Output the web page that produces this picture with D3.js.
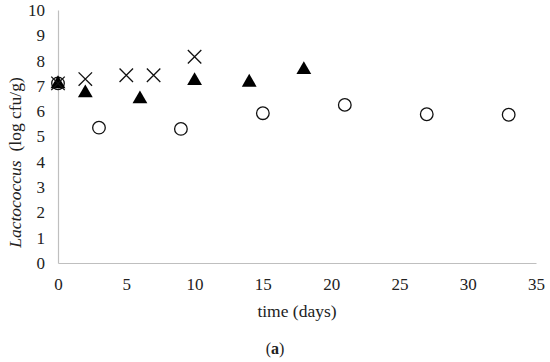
<!DOCTYPE html>
<html>
<head>
<meta charset="utf-8">
<script src="https://cdn.jsdelivr.net/npm/d3@7"></script>
<style>
  body { margin: 0; background: #fff; }
  svg { display: block; font-family: "Liberation Serif", "DejaVu Serif", serif; }
</style>
</head>
<body>
<svg id="chart" width="550" height="362"></svg>
<script>
const circleDays = [0, 3, 9, 15, 21, 27, 33];
const circleValues = [7.1, 5.35, 5.3, 5.92, 6.25, 5.88, 5.86];
const triangleDays = [0, 2, 6, 10, 14, 18];
const triangleValues = [7.08, 6.72, 6.48, 7.2, 7.14, 7.64];
const crossDays = [0, 2, 5, 7, 10];
const crossValues = [7.1, 7.27, 7.42, 7.42, 8.15];
const xTicks = [0, 5, 10, 15, 20, 25, 30, 35];
const yTicks = [0, 1, 2, 3, 4, 5, 6, 7, 8, 9, 10];

const svg = d3.select("#chart");
const x = d3.scaleLinear().domain([0, 35]).range([58, 536]);
const y = d3.scaleLinear().domain([0, 10]).range([263, 10]);

// axes, gray lines without ticks
const xAxis = svg.append("g")
  .attr("transform", `translate(0,${y(0)})`)
  .call(d3.axisBottom(x).tickValues(xTicks).tickSize(0).tickPadding(15));
const yAxis = svg.append("g")
  .attr("transform", `translate(${x(0)},0)`)
  .call(d3.axisLeft(y).tickValues(yTicks).tickSize(0).tickPadding(13));
[xAxis, yAxis].forEach((g) => {
  g.attr("font-family", null).attr("font-size", null);
  g.select(".domain").attr("stroke", "#bfbfbf").attr("stroke-width", 1.2);
  g.selectAll("text")
    .style("font-family", "'Liberation Serif', 'DejaVu Serif', serif")
    .style("font-size", "17px")
    .attr("fill", "#222");
});

const circles = circleDays.map((d, i) => ({ x: d, y: circleValues[i] }));
const triangles = triangleDays.map((d, i) => ({ x: d, y: triangleValues[i] }));
const crosses = crossDays.map((d, i) => ({ x: d, y: crossValues[i] }));

svg.append("g")
  .selectAll("circle")
  .data(circles)
  .join("circle")
  .attr("cx", (d) => x(d.x))
  .attr("cy", (d) => y(d.y))
  .attr("r", 6.3)
  .attr("fill", "none")
  .attr("stroke", "#111")
  .attr("stroke-width", 1.3);

const tri = d3.symbol().type(d3.symbolTriangle).size(95);
svg.append("g")
  .selectAll("path")
  .data(triangles)
  .join("path")
  .attr("d", tri)
  .attr("transform", (d) => `translate(${x(d.x)},${y(d.y)})`)
  .attr("fill", "#000");

const cross = d3.symbol().type(d3.symbolX).size(120);
svg.append("g")
  .selectAll("path")
  .data(crosses)
  .join("path")
  .attr("d", cross)
  .attr("transform", (d) => `translate(${x(d.x)},${y(d.y)})`)
  .attr("fill", "none")
  .attr("stroke", "#111")
  .attr("stroke-width", 1.3);

// titles
svg.append("text")
  .attr("x", x(17.5))
  .attr("y", 317)
  .attr("text-anchor", "middle")
  .attr("font-size", 17.5)
  .attr("fill", "#222")
  .text("time (days)");

const yl = svg.append("text")
  .attr("transform", `translate(21,${y(5) + 26}) rotate(-90)`)
  .attr("text-anchor", "middle")
  .attr("font-size", 17.5)
  .attr("fill", "#222");
yl.append("tspan").attr("font-style", "italic").text("Lactococcus");
yl.append("tspan").text("\u00a0 (log cfu/g)");

const cap = svg.append("text")
  .attr("x", 275)
  .attr("y", 354)
  .attr("text-anchor", "middle")
  .attr("font-size", 16)
  .attr("fill", "#222");
cap.append("tspan").text("(");
cap.append("tspan").attr("font-weight", "bold").text("a");
cap.append("tspan").text(")");
</script>
</body>
</html>
